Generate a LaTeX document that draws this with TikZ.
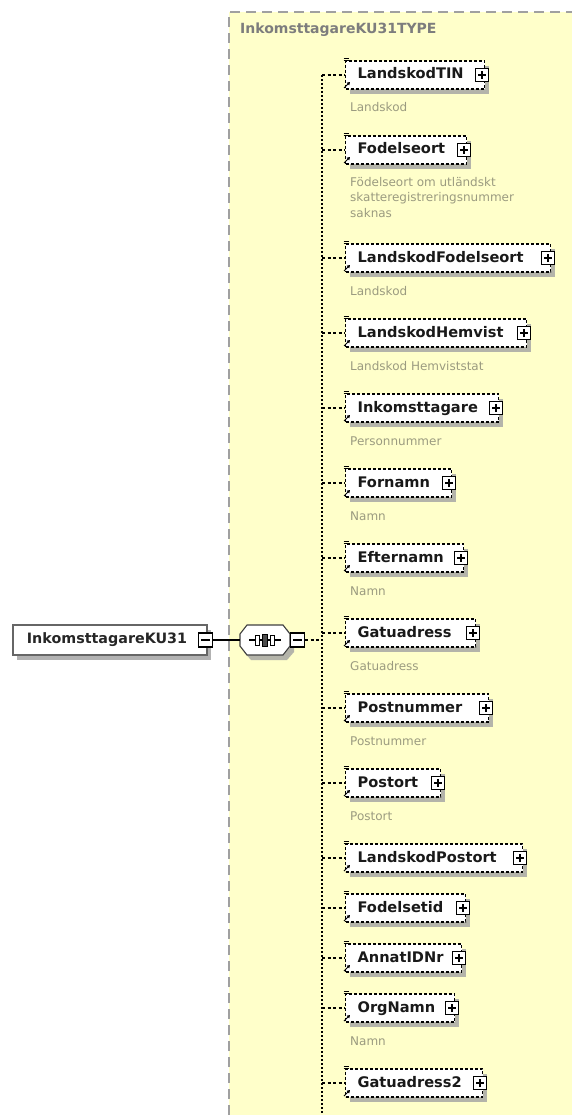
\documentclass[tikz,border=0pt]{standalone}
\usepackage{fontspec}
\setmainfont{DejaVu Sans}
\usetikzlibrary{arrows.meta,shadows}
\definecolor{yel}{RGB}{255,255,202}
\definecolor{bordercol}{RGB}{160,160,160}
\definecolor{titlecol}{RGB}{125,125,125}
\definecolor{desccol}{RGB}{155,155,128}
\definecolor{txtcol}{RGB}{25,25,25}
\definecolor{shadowcol}{RGB}{180,180,170}
\newcommand\xsdel[4]{%
  \pgfmathsetmacro\xsdtw{#3-345-24}%
  \node[elembox, text width=\xsdtw pt] (#1) at (345,#2) {#4};
  \node[plusbox] (#1p) at (#3-2,#2) {};
  \draw[conn] (#1.west -| vline) -- (#1.west);
  \draw[line width=0.8pt] (343.5,#2-17) -- (348.5,#2-17) (343.5,#2-14.5) -- (348.5,#2-14.5);
  \draw[line width=1pt,-{Triangle[length=3pt,width=3.5pt]}] (344,#2+13) -- (350,#2+7);
}
\newcommand\xsddesc[3]{%
  \node[desc, anchor=base west] (#1) at (350,#2+37) {#3};
}
\tikzset{
  elembox/.style={draw=black, line width=1.2pt, dash pattern=on 3pt off 2pt, fill=white,
    anchor=west, inner xsep=12pt, inner ysep=0pt, minimum height=28pt,
    text height=11pt, text depth=3pt, align=left, text=txtcol,
    font=\fontsize{14.6}{16}\selectfont\bfseries,
    drop shadow={shadow xshift=4pt, shadow yshift=-5pt, opacity=1, fill=shadowcol}},
  plusbox/.style={draw=black, line width=1.2pt, fill=white, minimum size=13pt, inner sep=0pt,
    path picture={\draw[line width=1.1pt] ([xshift=-4pt]path picture bounding box.center) -- ([xshift=4pt]path picture bounding box.center)
      ([yshift=-4pt]path picture bounding box.center) -- ([yshift=4pt]path picture bounding box.center);}},
  minusbox/.style={draw=black, line width=1.2pt, fill=white, minimum size=14pt, inner sep=0pt,
    path picture={\draw[line width=1.1pt] ([xshift=-4.5pt]path picture bounding box.center) -- ([xshift=4.5pt]path picture bounding box.center);}},
  conn/.style={draw=black, line width=1.2pt, dash pattern=on 3pt off 2.5pt},
  desc/.style={inner sep=0pt, text=desccol, font=\fontsize{12}{15.5}\selectfont},
  rootbox/.style={draw=black!60, line width=1.2pt, fill=white, minimum width=194pt, minimum height=30pt,
    inner sep=0pt, text=black!85, font=\fontsize{14.3}{16}\selectfont\bfseries,
    drop shadow={shadow xshift=4pt, shadow yshift=-5pt, opacity=1, fill=black!30}},
  seqbox/.style={minimum width=50pt, minimum height=30pt, inner sep=0pt}
}
\begin{document}
\begin{tikzpicture}[x=1pt,y=-1pt]
\useasboundingbox (0,0) rectangle (572,1115);
\fill[white] (0,0) rectangle (572,1115);
\fill[yel] (229,12) rectangle (572,1115);
\draw[bordercol, line width=1.2pt, dash pattern=on 10pt off 6pt] (229,1115) -- (229,12) -- (572,12);
\node[anchor=west, inner sep=0pt, text=titlecol, font=\fontsize{14}{16}\selectfont\bfseries] (title) at (240,30) {InkomsttagareKU31TYPE};

\coordinate (vline) at (322,75);
\coordinate (vbot) at (322,1115);
\draw[black, line width=1.5pt, dash pattern=on 2pt off 2pt] (vline) -- (vbot);

% root and sequence
\node[rootbox] (root) at (110,640) {\hspace*{-6pt}InkomsttagareKU31};
\node[minusbox] (rm) at (205.5,640) {};
\node[seqbox] (seq) at (265,640) {};
\fill[shadowcol] (251,629) -- (287,629) -- (294,638) -- (294,652) -- (287,660) -- (251,660) -- (244,652) -- (244,638) -- cycle;
\draw[black!75, line width=1.1pt, fill=white] (247,625) -- (283,625) -- (290,634) -- (290,646) -- (283,655) -- (247,655) -- (240,646) -- (240,634) -- cycle;
\draw[black, line width=1.1pt] (rm.east) -- (seq.west);
\draw[black, line width=1.1pt] (249,640) -- (281,640);
\draw[black, line width=1pt, fill=white] (255,635) rectangle (259,645);
\draw[black, line width=1pt, fill=black!70] (262,634) rectangle (267,646);
\draw[black, line width=1pt, fill=white] (270,635) rectangle (274,645);
\node[minusbox] (sm) at (297.5,640) {};
\draw[conn] (sm.east) -- (sm.east -| vline);

% elements
\xsdel{e1}{75}{484}{LandskodTIN}
\xsddesc{e1d}{75}{Landskod}
\xsdel{e2}{150}{466}{Fodelseort}
\node[desc, align=left, anchor=north west] (e2d) at (350,177) {Födelseort om utländskt\\skatteregistreringsnummer\\saknas};
\xsdel{e3}{258}{550}{LandskodFodelseort}
\xsddesc{e3d}{258}{Landskod}
\xsdel{e4}{333}{526}{LandskodHemvist}
\xsddesc{e4d}{333}{Landskod Hemviststat}
\xsdel{e5}{408}{498}{Inkomsttagare}
\xsddesc{e5d}{408}{Personnummer}
\xsdel{e6}{483}{451}{Fornamn}
\xsddesc{e6d}{483}{Namn}
\xsdel{e7}{558}{463}{Efternamn}
\xsddesc{e7d}{558}{Namn}
\xsdel{e8}{633}{475}{Gatuadress}
\xsddesc{e8d}{633}{Gatuadress}
\xsdel{e9}{708}{488}{Postnummer}
\xsddesc{e9d}{708}{Postnummer}
\xsdel{e10}{783}{440}{Postort}
\xsddesc{e10d}{783}{Postort}
\xsdel{e11}{858}{522}{LandskodPostort}
\xsdel{e12}{908}{465}{Fodelsetid}
\xsdel{e13}{958}{461}{AnnatIDNr}
\xsdel{e14}{1008}{454}{OrgNamn}
\xsddesc{e14d}{1008}{Namn}
\xsdel{e15}{1083}{482}{Gatuadress2}
\end{tikzpicture}
\end{document}
